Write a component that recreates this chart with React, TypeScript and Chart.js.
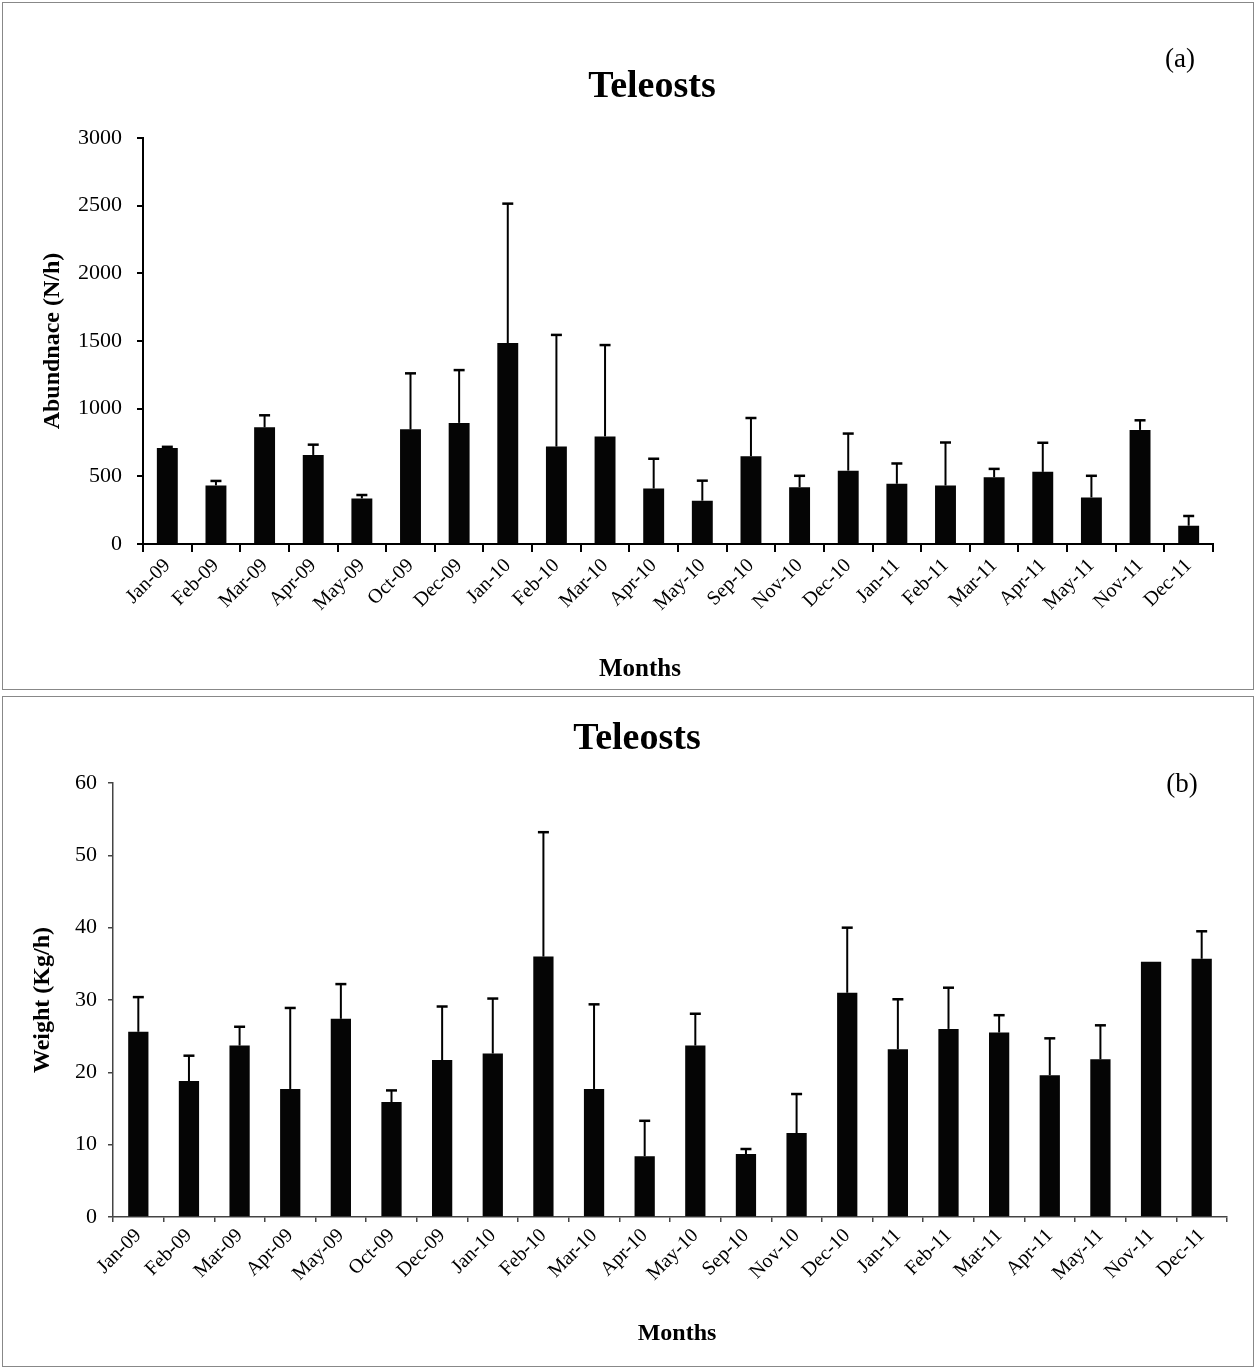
import React, { useEffect, useRef } from 'react';
import { Chart, registerables } from 'chart.js';

Chart.register(...registerables);

const months = [
  'Jan-09', 'Feb-09', 'Mar-09', 'Apr-09', 'May-09', 'Oct-09', 'Dec-09', 'Jan-10',
  'Feb-10', 'Mar-10', 'Apr-10', 'May-10', 'Sep-10', 'Nov-10', 'Dec-10', 'Jan-11',
  'Feb-11', 'Mar-11', 'Apr-11', 'May-11', 'Nov-11', 'Dec-11',
];

const abundance = [710, 433, 862, 658, 337, 847, 895, 1485, 720, 795, 410, 320, 648, 420, 542, 445, 432, 493, 533, 344, 843, 135];
const abundanceErr = [8, 33, 89, 76, 25, 414, 390, 1030, 825, 675, 220, 148, 283, 84, 274, 150, 318, 62, 215, 160, 71, 72];

const weight = [25.6, 18.8, 23.7, 17.7, 27.4, 15.9, 21.7, 22.6, 36.0, 17.7, 8.4, 23.7, 8.7, 11.6, 31.0, 23.2, 26.0, 25.5, 19.6, 21.8, 35.3, 35.7];
const weightErr = [4.8, 3.5, 2.6, 11.2, 4.8, 1.6, 7.4, 7.6, 17.2, 11.7, 4.9, 4.4, 0.7, 5.4, 9.0, 6.9, 5.7, 2.4, 5.1, 4.7, 0, 3.8];

const abundanceRange = [0, 3000];
const abundanceStep = 500;
const weightRange = [0, 60];
const weightStep = 10;

const SERIF = "'Liberation Serif', 'Times New Roman', serif";

const errorBarPlugin = {
  id: 'errorBars',
  afterDatasetsDraw(chart: any, _args: any, opts: any) {
    const errs: number[] = opts.errors || [];
    const meta = chart.getDatasetMeta(0);
    const ys = chart.scales.y;
    const vals = chart.data.datasets[0].data as number[];
    const ctx = chart.ctx;
    ctx.save();
    ctx.strokeStyle = opts.color || '#000';
    meta.data.forEach((bar: any, i: number) => {
      const e = errs[i];
      if (!e || e <= 0) return;
      const x = bar.x;
      const y0 = ys.getPixelForValue(vals[i]);
      const y1 = ys.getPixelForValue(vals[i] + e);
      ctx.lineWidth = opts.width || 2;
      ctx.beginPath();
      ctx.moveTo(x, y0);
      ctx.lineTo(x, y1);
      ctx.stroke();
      ctx.lineWidth = opts.capWidth || 2.5;
      ctx.beginPath();
      ctx.moveTo(x - opts.cap / 2, y1);
      ctx.lineTo(x + opts.cap / 2, y1);
      ctx.stroke();
    });
    ctx.restore();
  },
};

type PanelProps = {
  top: number;
  height: number;
  values: number[];
  errors: number[];
  range: number[];
  step: number;
  yTitle: string;
  padLeft: number;
  areaLeft: number;
  areaTop: number;
  areaBottom: number;
  areaRight: number;
  yTitlePad: number;
  axisColor: string;
  axisWidth: number;
  barPct: number;
  yTickPad: number;
  yTickLen: number;
  xTickLen: number;
};

function Panel(p: PanelProps) {
  const ref = useRef<HTMLCanvasElement>(null);
  useEffect(() => {
    if (!ref.current) return;
    const chart = new Chart(ref.current, {
      type: 'bar',
      data: {
        labels: months,
        datasets: [
          {
            data: p.values,
            backgroundColor: '#050505',
            borderWidth: 0,
            barPercentage: p.barPct,
            categoryPercentage: 1,
          },
        ],
      },
      options: {
        responsive: false,
        animation: false,
        layout: {
          padding: { left: p.padLeft, top: p.areaTop, right: 1256 - p.areaRight, bottom: 0 },
        },
        plugins: {
          legend: { display: false },
          tooltip: { enabled: false },
          title: { display: false },
          errorBars: { errors: p.errors, color: '#000', width: 2, capWidth: 2.5, cap: 11 },
        } as any,
        scales: {
          x: {
            grid: {
              display: true,
              offset: true,
              drawOnChartArea: false,
              drawTicks: true,
              tickLength: p.xTickLen,
              color: p.axisColor,
              lineWidth: p.axisWidth,
            },
            border: { display: true, color: p.axisColor, width: p.axisWidth },
            ticks: {
              autoSkip: false,
              minRotation: 45,
              maxRotation: 45,
              padding: 2,
              color: '#000',
              font: { family: SERIF, size: 20 },
            },
            afterFit: (s: any) => {
              s.height = p.height - p.areaBottom;
            },
          },
          y: {
            min: p.range[0],
            max: p.range[1],
            grid: {
              display: true,
              drawOnChartArea: false,
              drawTicks: true,
              tickLength: p.yTickLen,
              color: p.axisColor,
              lineWidth: p.axisWidth,
            },
            border: { display: true, color: p.axisColor, width: p.axisWidth },
            ticks: {
              stepSize: p.step,
              padding: p.yTickPad,
              color: '#000',
              font: { family: SERIF, size: 22 },
              callback: (v: any) => String(v),
            },
            title: {
              display: true,
              text: p.yTitle,
              color: '#000',
              font: { family: SERIF, size: 24, weight: 'bold' },
              padding: { top: p.yTitlePad, bottom: 0 },
            },
            afterFit: (s: any) => {
              s.width = p.areaLeft - p.padLeft;
            },
          },
        },
      },
      plugins: [errorBarPlugin],
    } as any);
    return () => chart.destroy();
  }, []);
  return (
    <canvas
      ref={ref}
      width={1256}
      height={p.height}
      style={{ position: 'absolute', left: 0, top: p.top, width: 1256, height: p.height }}
    />
  );
}

function Label(props: { x: number; y: number; size: number; bold?: boolean; text: string }) {
  return (
    <div
      style={{
        position: 'absolute',
        left: props.x - 200,
        top: props.y - props.size * 0.6,
        width: 400,
        textAlign: 'center',
        fontFamily: SERIF,
        fontSize: props.size,
        fontWeight: props.bold ? 'bold' : 'normal',
        lineHeight: `${props.size * 1.2}px`,
        color: '#000',
        whiteSpace: 'nowrap',
      }}
    >
      {props.text}
    </div>
  );
}

export default function App() {
  return (
    <div style={{ position: 'absolute', left: 0, top: 0, width: 1256, height: 1369, background: '#fff', overflow: 'hidden' }}>
      <div style={{ position: 'absolute', left: 2, top: 2, width: 1250, height: 686, border: '1px solid #888' }} />
      <div style={{ position: 'absolute', left: 2, top: 696, width: 1250, height: 669, border: '1px solid #888' }} />
      <Panel
        top={0}
        height={692}
        values={abundance}
        errors={abundanceErr}
        range={abundanceRange}
        step={abundanceStep}
        yTitle="Abundnace (N/h)"
        padLeft={20}
        areaLeft={143}
        areaTop={138}
        areaBottom={544}
        areaRight={1213}
        yTitlePad={18}
        axisColor="#000"
        axisWidth={2}
        barPct={0.43}
        yTickPad={15}
        yTickLen={6}
        xTickLen={8}
      />
      <Panel
        top={694}
        height={675}
        values={weight}
        errors={weightErr}
        range={weightRange}
        step={weightStep}
        yTitle="Weight (Kg/h)"
        padLeft={10}
        areaLeft={113}
        areaTop={89}
        areaBottom={523}
        areaRight={1227}
        yTitlePad={18}
        axisColor="#444"
        axisWidth={1.5}
        barPct={0.4}
        yTickPad={11}
        yTickLen={5}
        xTickLen={5}
      />
      <Label x={652} y={85} size={38} bold text="Teleosts" />
      <Label x={1180} y={58} size={27} text="(a)" />
      <Label x={640} y={668} size={25} bold text="Months" />
      <Label x={637} y={737} size={38} bold text="Teleosts" />
      <Label x={1182} y={783} size={27} text="(b)" />
      <Label x={677} y={1332} size={24} bold text="Months" />
    </div>
  );
}
